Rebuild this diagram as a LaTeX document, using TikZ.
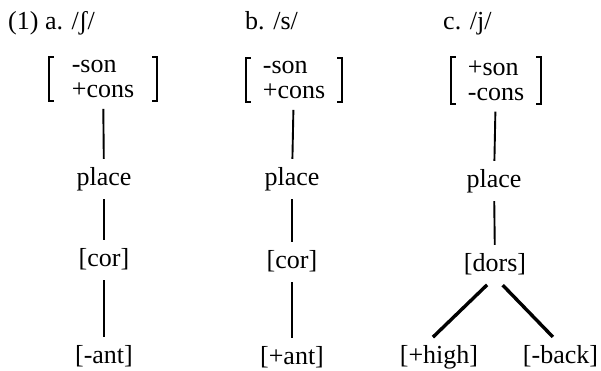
\documentclass[tikz,border=0pt]{standalone}
\usepackage{fontspec}
\setmainfont{Liberation Serif}
\tikzset{
  font=\fontsize{26}{25}\selectfont,
  head/.style={anchor=base west, inner sep=0pt},
  lab/.style={anchor=base, text height=18pt, text depth=6pt, inner sep=0pt},
  feat/.style={align=left, inner xsep=0pt, inner ysep=3pt},
  brk/.style={draw=black, line width=1.7pt},
  tie/.style={draw=black, line width=1.9pt, shorten <=8pt, shorten >=8pt},
  limb/.style={draw=black, line width=3.4pt, shorten <=11pt, shorten >=11pt}
}

\begin{document}
\begin{tikzpicture}[x=1pt,y=-1pt]
\useasboundingbox (0,0) rectangle (601,370);

% Headings of the three columns.
\node[head] (ha) at (8,29) {(1) a. /ʃ/};
\node[head] (hb) at (245,29) {b. /s/};
\node[head] (hc0) at (443,29) {c. /j/};

% Feature matrices.
\node[feat, minimum width=108pt] (ma) at (103,79) {-son\\+cons};
\node[feat, minimum width=96pt] (mb) at (294,80) {-son\\+cons};
\node[feat, minimum width=90pt] (mc) at (496,80.5) {+son\\-cons};
\foreach \m in {ma,mb,mc}
  \draw[brk] ([xshift=5pt]\m.north west) -| (\m.south west) -- ++(5pt,0)
             ([xshift=-5pt]\m.north east) -| (\m.south east) -- ++(-5pt,0);

% Column a: coronal, anterior minus.
\node[lab] (pa) at (104,185) {place};
\node[lab] (ca) at (104,266) {[cor]};
\node[lab] (aa) at (104,363) {[-ant]};
\draw[tie] (ma) -- (pa);
\draw[tie] (pa) -- (ca);
\draw[tie] (ca) -- (aa);

% Column b: coronal, anterior plus.
\node[lab] (pb) at (292,185) {place};
\node[lab] (cb) at (292,268) {[cor]};
\node[lab] (ab) at (292,364) {[+ant]};
\draw[tie] (mb) -- (pb);
\draw[tie] (pb) -- (cb);
\draw[tie] (cb) -- (ab);

% Column c: dorsal, branching.
\node[lab] (pc) at (494,187) {place};
\node[lab] (dc) at (495,271) {[dors]};
\node[lab] (gc) at (439,363) {[+high]};
\node[lab] (bc) at (560.5,363) {[-back]};
\draw[tie] (mc) -- (pc);
\draw[tie] (pc) -- (dc);
\draw[limb] (dc.south) -- ([xshift=-14pt]gc.north);
\draw[limb] (dc.south) -- (bc.north);

\end{tikzpicture}
\end{document}
